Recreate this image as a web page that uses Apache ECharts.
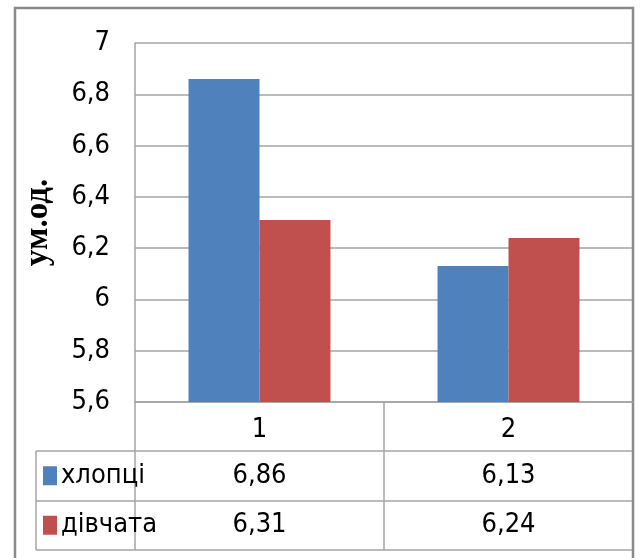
<!DOCTYPE html>
<html>
<head>
<meta charset="utf-8">
<script src="https://cdn.jsdelivr.net/npm/echarts@6/dist/echarts.min.js"></script>
<style>
  html, body { margin: 0; padding: 0; background: #ffffff; }
  #chart { width: 640px; height: 558px; }
</style>
</head>
<body>
<div id="chart"></div>
<script>
// ---- data ----
const categories = ['1', '2'];
const seriesNames = ['хлопці', 'дівчата'];
const boys = [6.86, 6.13];
const girls = [6.31, 6.24];
const yMin = 5.6;
const yMax = 7;
const yStep = 0.2;
const axisTitle = 'ум.од.';

// ---- style ----
const colors = ['#4F81BD', '#C0504D'];
const lineColor = '#a4a4a4';
const lineW = 1.5;
const frameColor = '#8a8a8a';
const labelFont = "'Liberation Sans Narrow', 'DejaVu Sans Condensed', sans-serif";
const labelSize = 27;

const W = 640, H = 558;
const grid = { left: 135, right: 7, top: 43, bottom: 156 };
const plotBottom = H - grid.bottom;
const catRowH = 49;
const dataRowH = 49.5;
const tableLeft = 36;

const fmt = v => String(Number(v.toFixed(2))).replace('.', ',');

const chart = echarts.init(document.getElementById('chart'), null, { renderer: 'canvas' });

chart.setOption({
  animation: false,
  backgroundColor: '#ffffff',
  grid: { left: grid.left, right: grid.right, top: grid.top, bottom: grid.bottom, containLabel: false },
  xAxis: {
    type: 'category',
    data: categories,
    axisLine: { show: true, lineStyle: { color: lineColor, width: lineW } },
    axisTick: { show: false },
    axisLabel: { color: '#000', fontFamily: labelFont, fontSize: labelSize, margin: 14 }
  },
  yAxis: {
    type: 'value',
    min: yMin,
    max: yMax,
    interval: yStep,
    name: axisTitle,
    nameLocation: 'middle',
    nameRotate: 90,
    nameGap: 80,
    nameTextStyle: { color: '#000', fontFamily: "'Liberation Serif', 'DejaVu Serif', serif", fontWeight: 'bold', fontSize: 33 },
    axisLine: { show: true, lineStyle: { color: lineColor, width: lineW } },
    axisTick: { show: false },
    splitLine: { lineStyle: { color: lineColor, width: lineW } },
    axisLabel: {
      color: '#000', fontFamily: labelFont, fontSize: labelSize, margin: 25,
      formatter: v => fmt(v)
    }
  },
  series: [
    {
      name: seriesNames[0], type: 'bar', data: boys,
      barGap: '0%', barCategoryGap: '43%',
      itemStyle: { color: colors[0] }
    },
    {
      name: seriesNames[1], type: 'bar', data: girls,
      barGap: '0%', barCategoryGap: '43%',
      itemStyle: { color: colors[1] }
    }
  ]
});

// ---- data table under the plot ----
const centers = categories.map((c, i) => chart.convertToPixel({ xAxisIndex: 0 }, i));
const band = centers.length > 1 ? Math.abs(centers[1] - centers[0]) : (W - grid.left - grid.right);
const plotRight = W - grid.right;
const rowsTop = plotBottom + catRowH;
const tableBottom = rowsTop + dataRowH * seriesNames.length;
const values = [boys, girls];

const gfx = [];
const line = (x1, y1, x2, y2, color, w) => gfx.push({
  type: 'line', silent: true,
  shape: { x1, y1, x2, y2 },
  style: { stroke: color, lineWidth: w }
});

// column dividers at category boundaries
const bounds = [centers[0] - band / 2].concat(centers.map(c => c + band / 2));
bounds.forEach(x => line(Math.round(x), plotBottom, Math.round(x), tableBottom, lineColor, lineW));
line(tableLeft, rowsTop, tableLeft, tableBottom, lineColor, lineW);

// row dividers
for (let r = 0; r <= seriesNames.length; r++) {
  const y = Math.round(rowsTop + r * dataRowH);
  line(tableLeft, y, plotRight, y, lineColor, lineW);
}

// row headers with colour keys, and value cells
seriesNames.forEach((name, r) => {
  const cy = rowsTop + (r + 0.5) * dataRowH;
  gfx.push({
    type: 'rect', silent: true,
    shape: { x: 43, y: cy - 9.5, width: 14, height: 19 },
    style: { fill: colors[r] }
  });
  gfx.push({
    type: 'text', silent: true, x: 61, y: cy,
    style: { text: name, fill: '#000', font: labelSize + 'px ' + labelFont, textAlign: 'left', textVerticalAlign: 'middle' }
  });
  values[r].forEach((v, i) => {
    gfx.push({
      type: 'text', silent: true, x: centers[i], y: cy,
      style: { text: fmt(v), fill: '#000', font: labelSize + 'px ' + labelFont, textAlign: 'center', textVerticalAlign: 'middle' }
    });
  });
});

// outer chart frame
gfx.push({
  type: 'rect', silent: true,
  shape: { x: 15, y: 8, width: 618, height: 600 },
  style: { fill: null, stroke: frameColor, lineWidth: 2.5 }
});

chart.setOption({ graphic: gfx });
</script>
</body>
</html>
